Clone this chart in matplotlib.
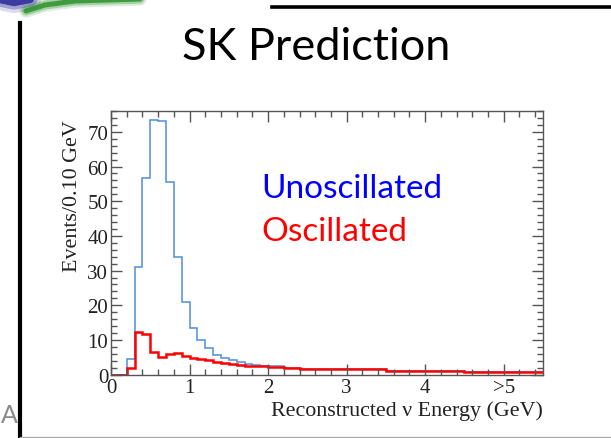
import numpy as np
import matplotlib.pyplot as plt
from matplotlib.lines import Line2D
from matplotlib.ticker import MultipleLocator, FixedLocator, FixedFormatter

# ---------- Histogramm-Daten ----------
# Bin-Kanten in GeV (0.1 GeV bis 2.2, danach breitere Bins)
edges = [0.0, 0.1, 0.2, 0.3, 0.4, 0.5, 0.6, 0.7, 0.8, 0.9, 1.0,
         1.1, 1.2, 1.3, 1.4, 1.5, 1.6, 1.7, 1.8, 1.9, 2.0, 2.1, 2.2,
         2.4, 3.5, 4.5, 5.5]

unosc = [0, 0, 4.4, 31.0, 56.6, 73.5, 73.0, 55.6, 34.0, 21.0, 13.5,
         10.0, 7.6, 5.8, 4.9, 4.2, 3.6, 3.1, 2.8, 2.6, 2.5, 2.4,
         2.0, 1.65, 1.2, 0.8]

osc = [0, 0, 2.0, 12.2, 11.8, 6.5, 5.1, 6.0, 6.2, 5.5, 4.9,
       4.5, 4.1, 3.8, 3.3, 3.0, 2.8, 2.6, 2.5, 2.4, 2.2, 2.1,
       2.0, 1.65, 1.2, 0.8]

xticks = [0, 1, 2, 3, 4, 5]
xticklabels = ["0", "1", "2", "3", "4", ">5"]

W, H = 611, 439


def fx(px):
    return px / W


def fy(py):
    return 1 - py / H


fig = plt.figure(figsize=(W / 100, H / 100), dpi=100)
fig.patch.set_facecolor("white")

# ---------- Folien-Deko ----------
# Logo-Rest oben links (verwaschen)
for lw, a in [(16, 0.15), (11, 0.3), (6, 0.75)]:
    fig.add_artist(Line2D([fx(-5), fx(14), fx(30)], [fy(-1), fy(3), fy(0)],
                          color="#1a1a90", lw=lw, alpha=a, solid_capstyle="round"))
    fig.add_artist(Line2D([fx(26), fx(45), fx(75), fx(140)],
                          [fy(12), fy(6), fy(2), fy(0)],
                          color="#1f8a1f", lw=lw * 0.6, alpha=a, solid_capstyle="round"))
fig.add_artist(Line2D([fx(258), fx(266)], [fy(-1), fy(0)], color="#3a9a3a",
                      lw=3, alpha=0.4))

fig.add_artist(Line2D([fx(272), fx(611)], [fy(8), fy(8)], color="black", lw=2.6))
fig.add_artist(Line2D([fx(20), fx(20)], [fy(24), fy(439)], color="black", lw=3.0))
fig.add_artist(Line2D([fx(20), fx(611)], [fy(437.5), fy(437.5)], color="#aaaaaa", lw=1.0))
fig.text(fx(1), fy(416), "A", fontsize=18, color="#8a8a8a", family="Lato",
         ha="left", va="center")

fig.text(fx(316), fy(47), "SK Prediction", fontsize=32.5, family="Lato",
         ha="center", va="center", color="black")

# ---------- Plot ----------
ax = fig.add_axes([fx(111), fy(375.7), fx(543) - fx(111), fy(112) - fy(375.7)])

ax.stairs(unosc, edges, color="#4d8fdc", lw=1.1, baseline=None)
ax.stairs(osc, edges, color="#ff0000", lw=1.8, baseline=None)

ax.set_xlim(0, 5.5)
ax.set_ylim(0, 76)

serif = "Liberation Serif"
ax.xaxis.set_major_locator(FixedLocator(xticks))
ax.xaxis.set_major_formatter(FixedFormatter(xticklabels))
ax.xaxis.set_minor_locator(MultipleLocator(0.2))
ax.yaxis.set_major_locator(MultipleLocator(10))
ax.yaxis.set_minor_locator(MultipleLocator(2))

frame_col = "#555555"
for s in ax.spines.values():
    s.set_color(frame_col)
    s.set_linewidth(1.0)
ax.tick_params(which="both", direction="in", top=True, right=True,
               color=frame_col, width=1.0)
ax.tick_params(which="major", length=8)
ax.tick_params(which="minor", length=4)
ax.tick_params(axis="x", pad=2.5)
ax.tick_params(axis="y", pad=2)
for lab in ax.get_xticklabels() + ax.get_yticklabels():
    lab.set_family(serif)
    lab.set_fontsize(15)
    lab.set_color("#222222")

ax.set_xlabel("Reconstructed ν Energy (GeV)", family=serif, fontsize=15.8,
              color="#222222", loc="right", labelpad=2.5)
ax.set_ylabel("Events/0.10 GeV", family=serif, fontsize=15.8,
              color="#222222", loc="top", labelpad=4)
ax.yaxis.label.set_y(0.97)

fig.text(fx(261), fy(189), "Unoscillated", fontsize=24, family="Lato",
         color="#0000ff", ha="left", va="center")
fig.text(fx(261), fy(232), "Oscillated", fontsize=24, family="Lato",
         color="#ff0000", ha="left", va="center")

fig.savefig("out.png", dpi=100)
